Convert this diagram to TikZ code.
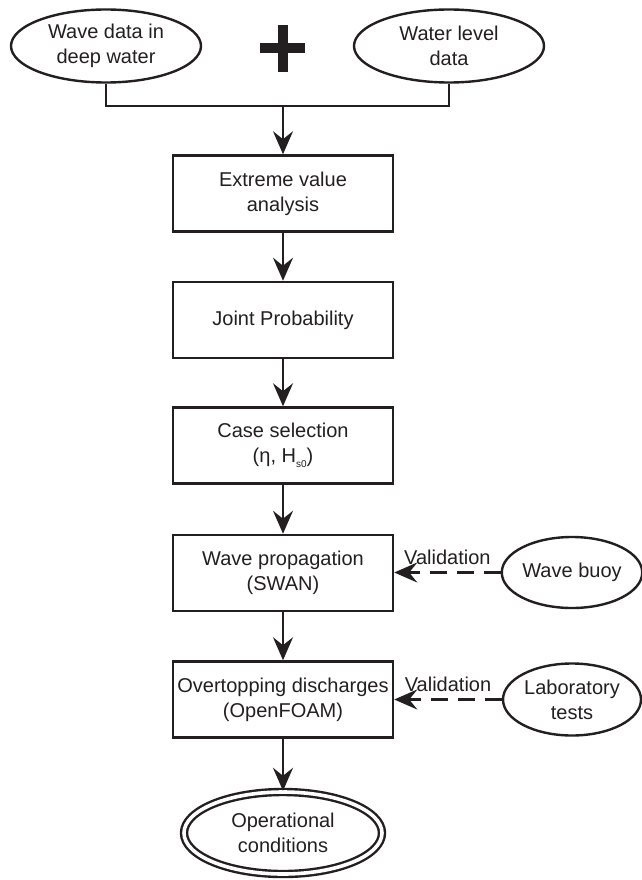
\documentclass[tikz,border=0pt]{standalone}
\usepackage{fontspec}
\setmainfont{Liberation Sans}
\usetikzlibrary{shapes.geometric,arrows.meta}
\definecolor{ink}{HTML}{231F20}
\begin{document}
\begin{tikzpicture}[x=1pt,y=-1pt,
  every node/.style={font=\fontsize{20}{25}\selectfont, text=ink, align=center},
  inbox/.style={draw=ink, line width=2.5pt, rectangle, minimum width=220pt, minimum height=76pt, inner sep=0pt},
  oval/.style={draw=ink, line width=2.4pt, ellipse, inner sep=0pt},
  link/.style={draw=ink, line width=2.3pt},
  arr/.style={link, -{Stealth[length=23pt,width=20pt,inset=8pt]}},
  darr/.style={arr, dash pattern=on 17pt off 10pt},
  vlabel/.style={above=7pt, inner sep=0pt}
]
\useasboundingbox (0,0) rectangle (641,880);
% inputs
\node[oval, minimum width=190pt, minimum height=73pt] (wave) at (106,46) {Wave data in\\deep water};
\node[oval, minimum width=190pt, minimum height=73pt] (level) at (449,46) {Water level\\data};
\fill[ink] (260,43) rectangle (305,53);
\fill[ink] (278,25) rectangle (288,72);
\coordinate (join) at (283,106);
% boxes
\node[inbox] (b1) at (283,193.5) {Extreme value\\analysis};
\node[inbox] (b2) at (283,320) {Joint Probability};
\node[inbox] (b3) at (283,445.5) {Case selection\\(η, H\raisebox{-5pt}{\fontsize{10}{10}\selectfont s0})};
\node[inbox] (b4) at (283,573) {Wave propagation\\(SWAN)};
\node[inbox] (b5) at (283,699.5) {Overtopping discharges\\(OpenFOAM)};
\node[oval, double=white, double distance=3.6pt, minimum width=198pt, minimum height=82pt] (op) at (283,833) {Operational\\conditions};
% side inputs
\node[oval, minimum width=138pt, minimum height=71pt] (buoy) at (572,572.5) {Wave buoy};
\node[oval, minimum width=138pt, minimum height=72pt] (lab) at (572,699.5) {Laboratory\\tests};
% connectors
\draw[link] (wave.south) |- (join) -| (level.south);
\draw[arr] (join) -- (b1.north);
\draw[arr] (b1) -- (b2);
\draw[arr] (b2) -- (b3);
\draw[arr] (b3) -- (b4);
\draw[arr] (b4) -- (b5);
\draw[arr] (b5) -- (op);
\draw[darr] (buoy.west) -- node[vlabel] {Validation} (b4.east |- buoy.west);
\draw[darr] (lab.west) -- node[vlabel] {Validation} (b5.east |- lab.west);
\end{tikzpicture}
\end{document}
